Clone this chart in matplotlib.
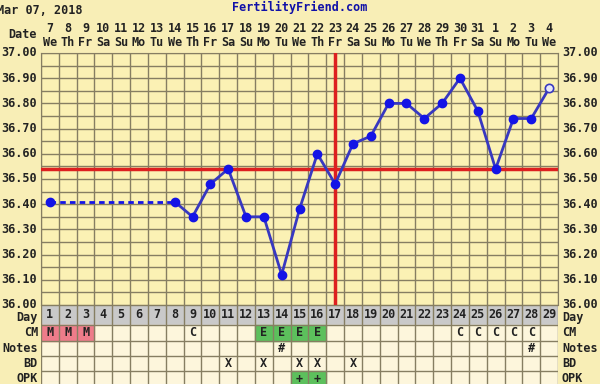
import matplotlib
matplotlib.use("Agg")
import matplotlib.pyplot as plt
import numpy as np

# дані графіка
days = list(range(1, 30))
dates = [7, 8, 9, 10, 11, 12, 13, 14, 15, 16, 17, 18, 19, 20, 21, 22, 23, 24, 25, 26,
         27, 28, 29, 30, 31, 1, 2, 3, 4]
weekdays = ["We", "Th", "Fr", "Sa", "Su", "Mo", "Tu"] * 4 + ["We"]
temp_days = [1, 8, 9, 10, 11, 12, 13, 14, 15, 16, 17, 18, 19, 20, 21, 22, 23, 24, 25,
             26, 27, 28, 29]
temps = [36.41, 36.41, 36.35, 36.48, 36.54, 36.35, 36.35, 36.12, 36.38, 36.60, 36.48,
         36.64, 36.67, 36.80, 36.80, 36.74, 36.80, 36.90, 36.77, 36.54, 36.74, 36.74, 36.86]
coverline = 36.54
ovulation_day = 17
y_ticks = [36.0, 36.1, 36.2, 36.3, 36.4, 36.5, 36.6, 36.7, 36.8, 36.9, 37.0]

cm = {1: "M", 2: "M", 3: "M", 9: "C", 13: "E", 14: "E", 15: "E", 16: "E",
      24: "C", 25: "C", 26: "C", 27: "C", 28: "C"}
notes = {14: "#", 28: "#"}
bd = {11: "X", 13: "X", 15: "X", 16: "X", 18: "X"}
opk = {15: "+", 16: "+"}
row_names = ["Day", "CM", "Notes", "BD", "OPK"]

W, H = 600, 384
outer_bg = "#f8eeb6"
plot_bg = "#fbf1b4"
cell_bg = "#fdf6dc"
grid_c = "#867e62"
blue_line = "#3838c0"
blue_dot = "#1414e6"
red = "#dd2020"
font = dict(family="DejaVu Sans Mono", weight="bold", size=8.5, color="#222222")

fig = plt.figure(figsize=(6, 3.84), dpi=100)
fig.patch.set_facecolor(outer_bg)

def px(x0, y0, x1, y1):
    return [x0 / W, 1 - y1 / H, (x1 - x0) / W, (y1 - y0) / H]

# температурна частина
ax = fig.add_axes(px(41, 53, 558, 305))
ax.set_facecolor(plot_bg)
ax.set_xlim(0.5, 29.5)
ax.set_ylim(36.0, 37.0)
for x in np.arange(0.5, 30, 1):
    ax.axvline(x, color=grid_c, lw=1, zorder=1)
for y in np.arange(36.0, 37.01, 0.05):
    ax.axhline(y, color=grid_c, lw=1, zorder=1)
ax.set_xticks([])
ax.set_yticks([])
for s in ax.spines.values():
    s.set_color(grid_c)

ax.axhline(coverline, color=red, lw=2.5, zorder=3)
ax.axvline(ovulation_day, color=red, lw=2.5, zorder=3)

# пунктир через пропущені дні
ax.plot(temp_days[:2], temps[:2], color=blue_dot, lw=2, ls=(0, (2, 1.5)), zorder=4)
ax.plot(temp_days[1:], temps[1:], color=blue_line, lw=2, zorder=4)
ax.plot(temp_days[:-1], temps[:-1], "o", color=blue_dot, ms=6, zorder=5)
ax.plot(temp_days[-1:], temps[-1:], "o", mfc="#e8e8f8", mec=blue_line, mew=1.2, ms=6, zorder=5)

for t in y_ticks:
    ax.text(-4 / 517, t, f"{t:.2f}", transform=ax.get_yaxis_transform(), ha="right",
            va="center", **font)
    ax.text(1 + 4 / 517, t, f"{t:.2f}", transform=ax.get_yaxis_transform(), ha="left",
            va="center", **font)
for d, dt, wd in zip(days, dates, weekdays):
    ax.text(d, 1 + 25 / 252, str(dt), transform=ax.get_xaxis_transform(), ha="center",
            va="center", **font)
    ax.text(d, 1 + 11 / 252, wd, transform=ax.get_xaxis_transform(), ha="center",
            va="center", **font)

fig.text(-3 / W, 1 - 10 / H, "Mar 07, 2018", ha="left", va="center", **font)
fig.text(300 / W, 1 - 7 / H, "FertilityFriend.com", ha="center", va="center",
         family="DejaVu Sans Mono", weight="bold", size=8.5, color="#1010a8")
fig.text(37 / W, 1 - 34 / H, "Date", ha="right", va="center", **font)

# таблиця під графіком
edges = [0, 20, 36, 51, 66, 82]
tb = fig.add_axes(px(41, 305, 558, 305 + edges[-1]))
tb.set_xlim(0.5, 29.5)
tb.set_ylim(edges[-1], 0)
tb.axis("off")
tb.add_patch(plt.Rectangle((0.5, 0), 29, edges[1], color="#c9c9c9", zorder=0))
tb.add_patch(plt.Rectangle((0.5, edges[1]), 29, edges[-1] - edges[1], color=cell_bg, zorder=0))

rows = [None, cm, notes, bd, opk]
for r, data in enumerate(rows):
    yc = (edges[r] + edges[r + 1]) / 2
    if r == 0:
        yc += 2
    fig.text(38 / W, 1 - (305 + yc) / H, row_names[r], ha="right", va="center", **font)
    fig.text(562 / W, 1 - (305 + yc) / H, row_names[r], ha="left", va="center", **font)
    if data is None:
        for d in days:
            tb.text(d, yc - 2, str(d), ha="center", va="center", **font)
        continue
    for d, v in data.items():
        fc = None
        if v == "M":
            fc = "#ee7c8a"
        elif v in ("E", "+"):
            fc = "#5cc05c"
        if fc:
            tb.add_patch(plt.Rectangle((d - 0.5, edges[r]), 1, edges[r + 1] - edges[r],
                                       color=fc, zorder=1))
        tb.text(d, yc, v, ha="center", va="center", zorder=3, **font)

for x in np.arange(0.5, 30, 1):
    tb.plot([x, x], [0, edges[-1]], color=grid_c, lw=1, zorder=2)
for y in edges:
    tb.plot([0.5, 29.5], [y, y], color=grid_c, lw=1, zorder=2)

fig.savefig("out.png", dpi=100, facecolor=fig.get_facecolor())
